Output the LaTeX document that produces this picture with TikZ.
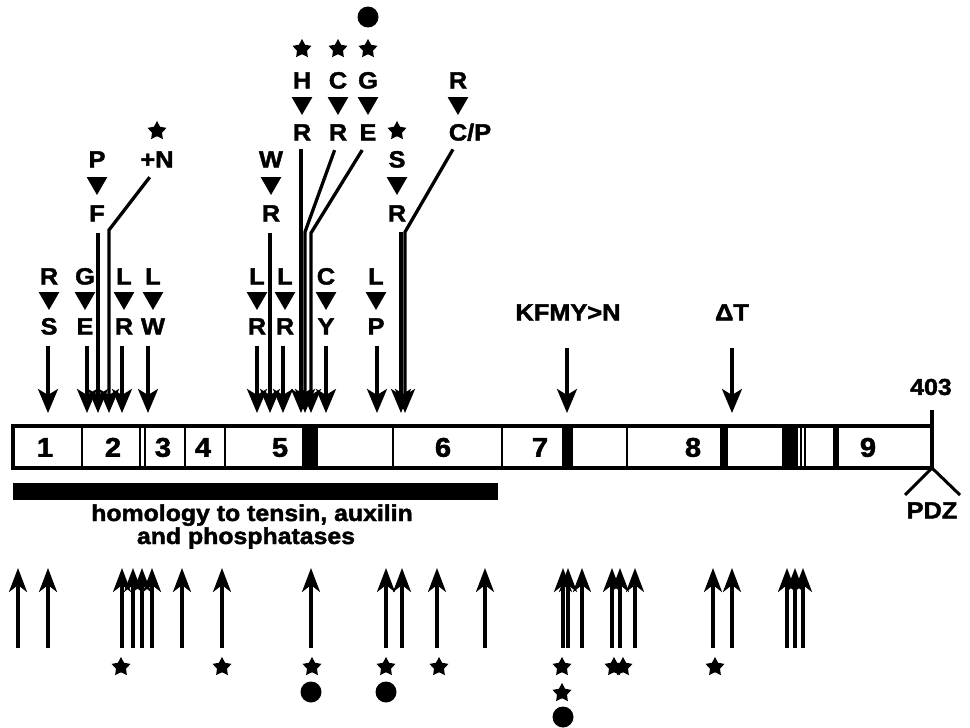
\documentclass[tikz,border=0pt]{standalone}
\usepackage{fontspec}
\setmainfont{Liberation Sans}[FakeStretch=1.08, BoldFeatures={FakeBold=1.8}]
\usetikzlibrary{arrows.meta,shapes.geometric}
\begin{document}
\begin{tikzpicture}[x=1pt,y=-1pt,
  lab/.style={font=\fontsize{23.5}{23.5}\selectfont\bfseries, inner sep=0pt, text height=17pt, text depth=0pt},
  num/.style={font=\fontsize{27}{27}\selectfont\bfseries, inner sep=0pt, text height=19.5pt, text depth=0pt},
  txtlab/.style={font=\fontsize{23}{23}\selectfont\bfseries, inner sep=0pt},
  tri/.style={regular polygon, regular polygon sides=3, shape border rotate=180, fill=black, inner sep=0pt, minimum size=24pt},
  ast/.style={star, star points=5, star point ratio=1.9, fill=black, inner sep=0pt, minimum size=20pt},
  dot/.style={circle, fill=black, inner sep=0pt, minimum size=21pt},
  darr/.style={line width=3.3pt, -{Stealth[length=24pt, width=20pt, inset=6pt]}},
  uarr/.style={line width=3.3pt, -{Stealth[length=24pt, width=18pt, inset=7pt]}},
  seg/.style={line width=2.5pt},
  frame/.style={line width=4pt},
]
\useasboundingbox (0,0) rectangle (970,728);

% ---------- protein bar ----------
\coordinate (barNW) at (13,426);
\coordinate (barSE) at (932,468);
\foreach \a/\b in {302/318, 562/573, 720/728, 782/798, 833/839}
  \fill (\a,426) rectangle (\b,468);
\foreach \x in {82, 140, 145, 185, 225, 393, 502, 627, 801, 805}
  \draw[seg] (\x,426) -- (\x,468);
\draw[frame] (barNW) rectangle (barSE);
\coordinate (endTop) at (932,410);
\draw[frame] (endTop) -- (barSE);
\node[txtlab] (len) at (931,387) {403};

\foreach \t/\x in {1/45, 2/113, 3/163, 4/203, 5/280, 6/443, 7/540, 8/693, 9/868}
  \node[num] (ex\t) at (\x,447) {\t};

% PDZ motif
\coordinate (pdzL) at (905,495);
\coordinate (pdzR) at (960,495);
\draw[line width=3pt] (pdzL) -- (barSE) -- (pdzR);
\node[lab] (pdz) at (932,510) {PDZ};

% homology region
\fill (13,483) rectangle (498,500);
\node[txtlab, anchor=base] (hom1) at (252,521) {homology to tensin, auxilin};
\node[txtlab, anchor=base] (hom2) at (246,544) {and phosphatases};

% ---------- short substitution arrows ----------
\foreach \n/\lx/\ax/\a/\b in {1/49/48/R/S, 2/85/87/G/E, 3/124/122/L/R, 4/153/148/L/W,
                              5/257/257/L/R, 6/285/283/L/R, 7/326/326/C/Y, 8/376/377/L/P} {
  \node[lab] (sa\n) at (\lx,276) {\a};
  \node[tri] (sv\n) at (\lx,298) {};
  \node[lab] (sb\n) at (\lx,326) {\b};
  \coordinate (st\n) at (\ax,413);
  \draw[darr, shorten <=11pt] (sb\n.south -| st\n) -- (st\n);
}

% ---------- long substitution lines ----------
% P > F
\node[lab] (pP) at (97,159) {P};
\node[tri] (pV) at (97,183) {};
\node[lab] (pF) at (97,213) {F};
\coordinate (tF) at (98,413);
\draw[darr, shorten <=11pt] (pF.south -| tF) -- (tF);

% insertion +N
\node[ast] (nS) at (157,131) {};
\node[lab] (nN) at (157,159) {+N};
\coordinate (kN) at (109,230);
\coordinate (tN) at (109,413);
\draw[darr, shorten <=12pt] (nN.south) -- (kN) -- (tN);

% W > R
\node[lab] (wW) at (271,159) {W};
\node[tri] (wV) at (271,183) {};
\node[lab] (wR) at (271,213) {R};
\coordinate (tW) at (270,413);
\draw[darr, shorten <=11pt] (wR.south -| tW) -- (tW);

% H > R, C > R, G > E
\node[dot] (gDot) at (368,17) {};
\foreach \n/\x/\a/\b in {h/302/H/R, c/338/C/R, g/368/G/E} {
  \node[ast] (\n S) at (\x,49) {};
  \node[lab] (\n A) at (\x,80) {\a};
  \node[tri] (\n V) at (\x,103) {};
  \node[lab] (\n B) at (\x,132) {\b};
}
\coordinate (tH) at (301,413);
\draw[darr, shorten <=8pt] (hB.south -| tH) -- (tH);
\coordinate (kC) at (305,232);
\coordinate (tC) at (305,413);
\draw[darr, shorten <=10pt] (cB.south) -- (kC) -- (tC);
\coordinate (kE) at (311,233);
\coordinate (tE) at (311,413);
\draw[darr, shorten <=11pt] (gB.south) -- (kE) -- (tE);

% S > R
\node[ast] (sS) at (397,131) {};
\node[lab] (sA) at (397,159) {S};
\node[tri] (sV) at (397,183) {};
\node[lab] (sB) at (397,213) {R};
\coordinate (tS) at (401,413);
\draw[darr, shorten <=10pt] (sB.south -| tS) -- (tS);

% R > C/P
\node[lab] (rA) at (458,80) {R};
\node[tri] (rV) at (458,103) {};
\node[lab] (rB) at (470,132) {C/P};
\coordinate (kP) at (405,232);
\coordinate (tP) at (405,413);
\draw[darr, shorten <=10pt] (rB.south -| rA) -- (kP) -- (tP);

% KFMY>N and deletion
\node[lab] (kf) at (568,312) {KFMY>N};
\coordinate (tK) at (567,413);
\draw[darr, shorten <=27pt] (kf.south -| tK) -- (tK);
\node[lab] (dT) at (732,312) {ΔT};
\coordinate (tD) at (732,413);
\draw[darr, shorten <=27pt] (dT.south -| tD) -- (tD);

% ---------- lower arrows ----------
\foreach \x [count=\i] in {18, 48, 122, 133, 142, 152, 182, 222, 311, 386, 402, 437, 485,
                           563, 568, 582, 612, 620, 635, 713, 732, 787, 795, 803} {
  \coordinate (ub\i) at (\x,648);
  \coordinate (ut\i) at (\x,568);
  \draw[uarr] (ub\i) -- (ut\i);
}
\foreach \x/\y [count=\i] in {121/667, 222/667, 312/667, 386/667, 439/667, 562/667,
                              562/693, 614/667, 623/667, 715/667}
  \node[ast] (ls\i) at (\x,\y) {};
\foreach \x/\y [count=\i] in {311/692, 386/692, 563/717}
  \node[dot] (ld\i) at (\x,\y) {};

\end{tikzpicture}
\end{document}
